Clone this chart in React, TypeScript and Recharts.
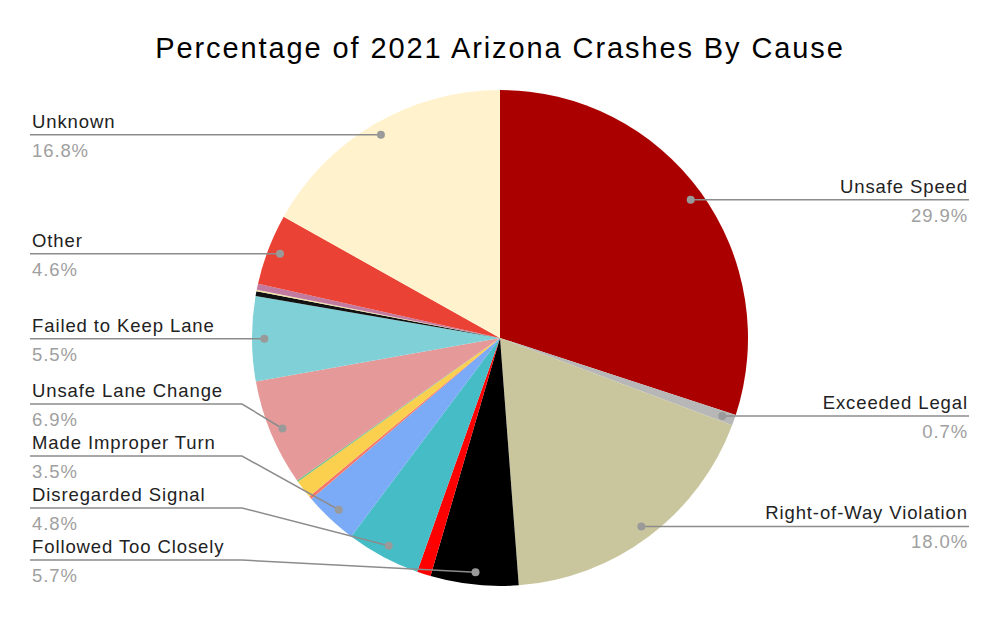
import { Cell, Pie, PieChart } from "recharts";

// slices clockwise from 12 o'clock; empty name = slice without a callout
const causes = [
	"Unsafe Speed",
	"Exceeded Legal",
	"Right-of-Way Violation",
	"Followed Too Closely",
	"",
	"Disregarded Signal",
	"Made Improper Turn",
	"",
	"",
	"",
	"Unsafe Lane Change",
	"Failed to Keep Lane",
	"",
	"",
	"",
	"Other",
	"Unknown",
];
const shares = [29.9, 0.7, 18.0, 5.7, 0.9, 4.8, 3.5, 0.2, 1.2, 0.1, 6.9, 5.5, 0.3, 0.1, 0.4, 4.6, 16.8];
const sliceColors = [
	"#aa0000",
	"#b7b7b7",
	"#c9c69d",
	"#000000",
	"#ff0000",
	"#46bdc6",
	"#7baaf7",
	"#f4796b",
	"#fcd04f",
	"#71c287",
	"#e69999",
	"#7fd1d7",
	"#111111",
	"#f3e3a8",
	"#c27ba0",
	"#ea4335",
	"#fff2cc",
];

const data = shares.map((v, i) => ({ name: causes[i] || `slice-${i}`, value: v }));

const CX = 500;
const CY = 338;
const R = 248;
const DOT_AT = 0.95;
const ROW_GAP = 52;
const MAX_LINE_Y = 560;
const LEFT_X = 30;
const RIGHT_X = 969;
const LEFT_ELBOW = 242;
const RIGHT_ELBOW = 758;
const RAD = Math.PI / 180;

// same angle math as the pie (start 90, clockwise), used only to stack callouts
const total = shares.reduce((a, b) => a + b, 0);
const dotY = shares.map((v, i) => {
	const before = shares.slice(0, i).reduce((a, b) => a + b, 0);
	const mid = 90 - (360 * (before + v / 2)) / total;
	return { y: CY + Math.sin(-mid * RAD) * R * DOT_AT, left: Math.cos(mid * RAD) < 0 };
});

const lineY: Record<number, number> = {};
for (const side of [true, false]) {
	const idx = causes
		.map((c, i) => i)
		.filter((i) => causes[i] && dotY[i].left === side)
		.sort((a, b) => dotY[b].y - dotY[a].y);
	let limit = MAX_LINE_Y;
	for (const i of idx) {
		const y = Math.min(dotY[i].y, limit);
		lineY[i] = y;
		limit = y - ROW_GAP;
	}
}

const font = "'Liberation Sans', Arial, sans-serif";

function Callout(props: any) {
	const { cx, cy, midAngle, outerRadius, index } = props;
	if (!causes[index]) return null;
	const r = outerRadius * DOT_AT;
	const dx = cx + Math.cos(-midAngle * RAD) * r;
	const dy = cy + Math.sin(-midAngle * RAD) * r;
	const left = Math.cos(midAngle * RAD) < 0;
	const ly = lineY[index] ?? dy;
	const pts = left
		? `${LEFT_X},${ly} ${LEFT_ELBOW},${ly} ${dx},${dy}`
		: `${dx},${dy} ${RIGHT_ELBOW},${ly} ${RIGHT_X},${ly}`;
	const tx = left ? 32 : 968;
	const anchor = left ? "start" : "end";
	return (
		<g>
			<polyline points={pts} fill="none" stroke="#8c8c8c" strokeWidth={1.5} />
			<circle cx={dx} cy={dy} r={4} fill="#9a9a9a" />
			<text
				x={tx}
				y={ly - 7}
				textAnchor={anchor}
				fontSize={18.5}
				letterSpacing={0.9}
				fill="#222"
				fontFamily={font}
			>
				{causes[index]}
			</text>
			<text
				x={tx}
				y={ly + 22}
				textAnchor={anchor}
				fontSize={18.5}
				letterSpacing={0.9}
				fill="#a0a0a0"
				fontFamily={font}
			>
				{shares[index].toFixed(1)}%
			</text>
		</g>
	);
}

export default function App() {
	return (
		<div style={{ position: "absolute", left: 0, top: 0, width: 1000, height: 618, background: "#fff" }}>
			<div
				style={{
					position: "absolute",
					left: 0,
					top: 28,
					width: 1000,
					textAlign: "center",
					fontFamily: font,
					fontSize: 29,
					letterSpacing: 1.9,
					lineHeight: "40px",
					color: "#000",
				}}
			>
				Percentage of 2021 Arizona Crashes By Cause
			</div>
			<PieChart width={1000} height={618} margin={{ top: 0, right: 0, bottom: 0, left: 0 }}>
				<Pie
					data={data}
					dataKey="value"
					nameKey="name"
					cx={CX}
					cy={CY}
					outerRadius={R}
					startAngle={90}
					endAngle={-270}
					stroke="none"
					label={Callout}
					labelLine={false}
					isAnimationActive={false}
				>
					{data.map((d, i) => (
						<Cell key={d.name} fill={sliceColors[i]} />
					))}
				</Pie>
			</PieChart>
		</div>
	);
}
